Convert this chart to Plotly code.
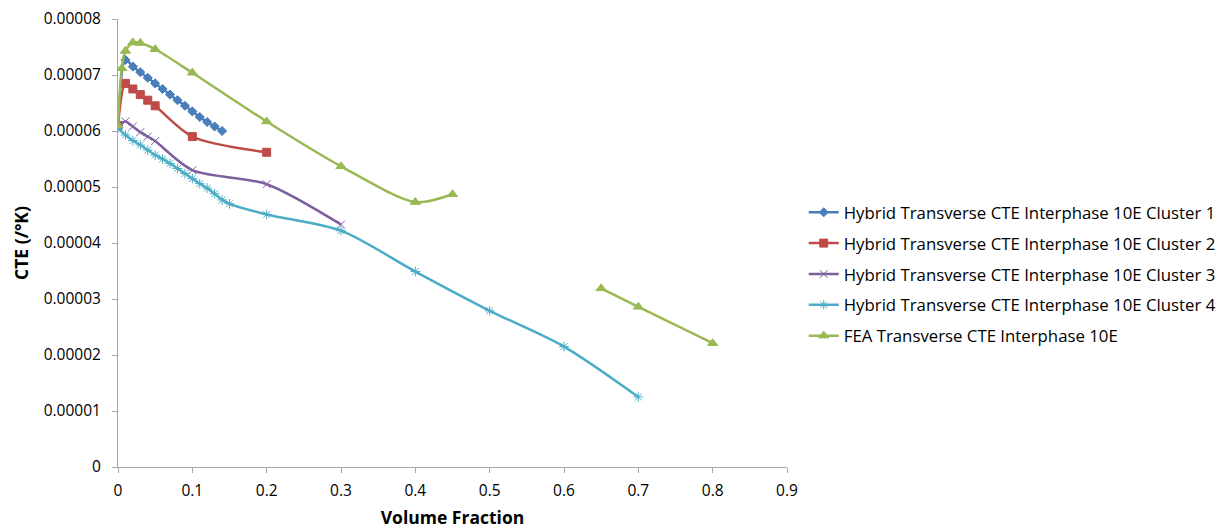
import plotly.graph_objects as go

# ---- data (CTE in /°K) ----
x1 = [0, 0.01, 0.02, 0.03, 0.04, 0.05, 0.06, 0.07, 0.08, 0.09, 0.10, 0.11, 0.12, 0.13, 0.14]
y1 = [6.10e-5, 7.27e-5, 7.15e-5, 7.05e-5, 6.95e-5, 6.85e-5, 6.75e-5, 6.65e-5, 6.55e-5,
      6.45e-5, 6.35e-5, 6.25e-5, 6.16e-5, 6.08e-5, 6.00e-5]

x2 = [0, 0.01, 0.02, 0.03, 0.04, 0.05, 0.10, 0.20]
y2 = [6.10e-5, 6.85e-5, 6.75e-5, 6.65e-5, 6.55e-5, 6.45e-5, 5.90e-5, 5.62e-5]

x3 = [0, 0.01, 0.02, 0.03, 0.04, 0.05, 0.10, 0.20, 0.30]
y3 = [6.10e-5, 6.17e-5, 6.08e-5, 5.98e-5, 5.90e-5, 5.82e-5, 5.30e-5, 5.05e-5, 4.33e-5]

x4 = [0, 0.01, 0.02, 0.03, 0.04, 0.05, 0.06, 0.07, 0.08, 0.09, 0.10, 0.11, 0.12, 0.13,
      0.14, 0.15, 0.20, 0.30, 0.40, 0.50, 0.60, 0.70]
y4 = [6.05e-5, 5.93e-5, 5.83e-5, 5.75e-5, 5.66e-5, 5.57e-5, 5.50e-5, 5.42e-5, 5.33e-5,
      5.24e-5, 5.15e-5, 5.06e-5, 4.98e-5, 4.88e-5, 4.77e-5, 4.70e-5, 4.51e-5, 4.22e-5,
      3.49e-5, 2.79e-5, 2.15e-5, 1.25e-5]

x5 = [0, 0.005, 0.01, 0.02, 0.03, 0.05, 0.10, 0.20, 0.30, 0.40, 0.45, None, 0.65, 0.70, 0.80]
y5 = [6.10e-5, 7.12e-5, 7.43e-5, 7.58e-5, 7.57e-5, 7.46e-5, 7.04e-5, 6.17e-5, 5.37e-5,
      4.73e-5, 4.87e-5, None, 3.19e-5, 2.86e-5, 2.21e-5]

names = [
    "Hybrid Transverse CTE Interphase 10E Cluster 1",
    "Hybrid Transverse CTE Interphase 10E Cluster 2",
    "Hybrid Transverse CTE Interphase 10E Cluster 3",
    "Hybrid Transverse CTE Interphase 10E Cluster 4",
    "FEA Transverse CTE Interphase 10E",
]

x_ticks = [0, 0.1, 0.2, 0.3, 0.4, 0.5, 0.6, 0.7, 0.8, 0.9]
x_tick_text = ["0", "0.1", "0.2", "0.3", "0.4", "0.5", "0.6", "0.7", "0.8", "0.9"]
y_ticks = [0, 1e-5, 2e-5, 3e-5, 4e-5, 5e-5, 6e-5, 7e-5, 8e-5]
y_tick_text = ["0", "0.00001", "0.00002", "0.00003", "0.00004", "0.00005",
               "0.00006", "0.00007", "0.00008"]

colors = ["#4A7EBB", "#BE4B48", "#7D5FA0", "#4BACC6", "#98B954"]
symbols = ["diamond", "square", "x-thin-open", "asterisk-open", "triangle-up"]
sizes = [7, 8, 8, 8, 9]

fig = go.Figure()
for i, (xs, ys) in enumerate([(x1, y1), (x2, y2), (x3, y3), (x4, y4), (x5, y5)]):
    fig.add_trace(go.Scatter(
        x=xs, y=ys, name=names[i], mode="lines+markers",
        line=dict(color=colors[i], width=2.5, shape="spline", smoothing=0.8),
        marker=dict(symbol=symbols[i], size=sizes[i], color=colors[i],
                    line=dict(color=colors[i], width=1)),
        connectgaps=False, legendgroup=str(i),
    ))

font_family = "Open Sans, Liberation Sans, sans-serif"
fig.update_layout(
    width=1219, height=529,
    margin=dict(l=118, r=432, t=19, b=62, autoexpand=False),
    paper_bgcolor="white", plot_bgcolor="white",
    font=dict(family=font_family, size=15.5, color="black"),
    showlegend=True,
    legend=dict(x=1.025, xanchor="left", y=0.43, yanchor="middle",
                font=dict(size=16.8, color="black"), traceorder="grouped",
                tracegroupgap=6, itemwidth=30, bgcolor="rgba(0,0,0,0)"),
    xaxis=dict(range=[0, 0.9], tickvals=x_ticks, ticktext=x_tick_text,
               showgrid=False, zeroline=False, showline=True, linecolor="#A6A6A6",
               linewidth=1, ticks="outside", tickcolor="#A6A6A6", ticklen=5,
               ticklabelstandoff=4,
               title=dict(text="<b>Volume Fraction</b>", font=dict(size=17.5), standoff=14)),
    yaxis=dict(range=[0, 8e-5], tickvals=y_ticks, ticktext=y_tick_text,
               showgrid=False, zeroline=False, showline=True, linecolor="#A6A6A6",
               linewidth=1, ticks="outside", tickcolor="#A6A6A6", ticklen=5,
               ticklabelstandoff=8,
               title=dict(text="<b>CTE (/°K)</b>", font=dict(size=17.5), standoff=10)),
)

fig.write_html("out.html")
